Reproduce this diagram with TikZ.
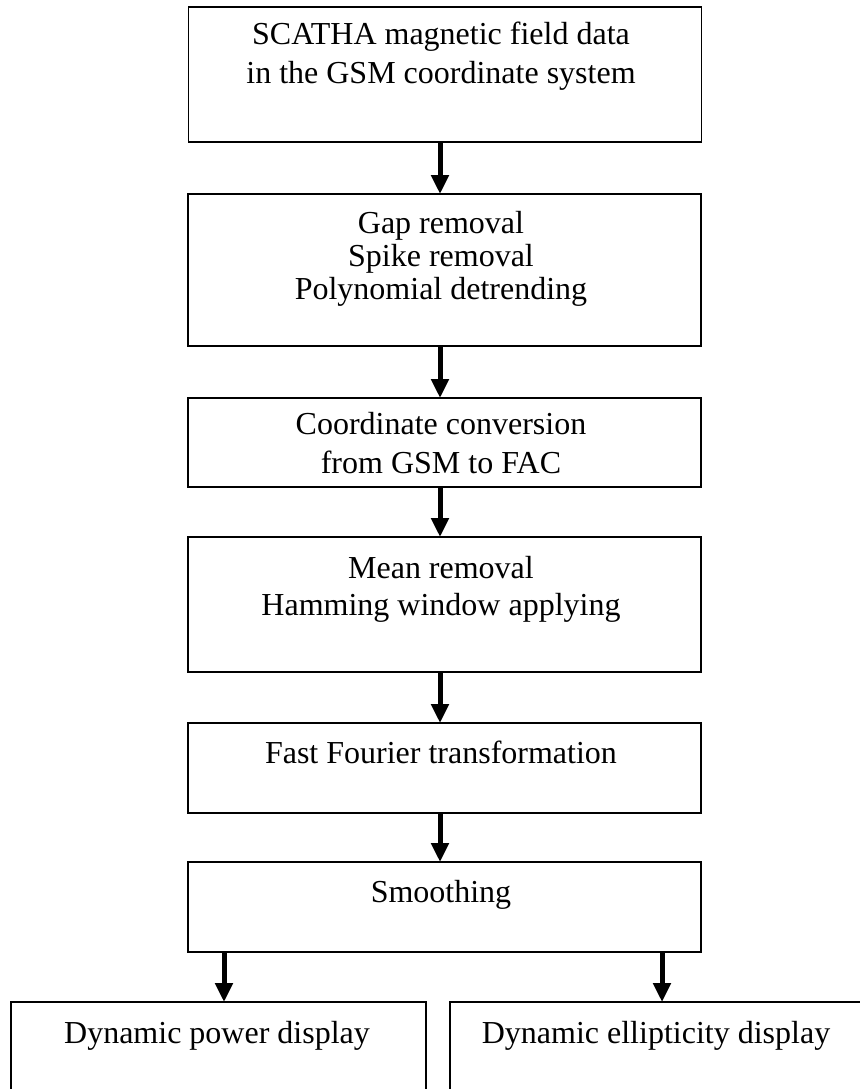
\documentclass[tikz,border=0pt]{standalone}
\usepackage{fontspec}
\setmainfont{Liberation Serif}
\usetikzlibrary{arrows.meta}

\begin{document}
\begin{tikzpicture}[x=0.5pt, y=-0.5pt,
		box/.style={draw=black, line width=0.8pt, inner sep=0pt, outer sep=0pt, minimum width=256.5pt},
		txt/.style={anchor=north, inner sep=0pt, align=center, font=\fontsize{16}{19.5}\selectfont},
		flow/.style={line width=2.5pt, -{Triangle[length=9.5pt, width=8.5pt]}}]
		%%%%% START %%%%%
		\useasboundingbox (0, 0) rectangle (860, 1089);
		\clip (0, 0) rectangle (860, 1089);
		
		\coordinate (ax) at (440, 0);
		\coordinate (al) at (224, 0);
		\coordinate (ar) at (662, 0);
		
		% boxes
		\node[box, minimum height=67.5pt] (b1) at (445, 74.5) {};
		\node[box, minimum height=76pt] (b2) at (444.5, 270) {};
		\node[box, minimum height=44.5pt] (b3) at (444.5, 442.5) {};
		\node[box, minimum height=67.5pt] (b4) at (444.5, 604.5) {};
		\node[box, minimum height=45pt] (b5) at (444.5, 768) {};
		\node[box, minimum height=45pt] (b6) at (444.5, 907) {};
		\node[box, minimum width=207.5pt, minimum height=49pt] (b7) at (218.5, 1051) {};
		\node[box, minimum width=208pt, minimum height=49pt] (b8) at (658, 1051) {};
		
		% texts
		\node[txt] (t1) at (441, 22) {SCATHA magnetic field data\\in the GSM coordinate system};
		\node[txt, font=\fontsize{16}{16.5}\selectfont] (t2) at (441, 211) {Gap removal\\Spike removal\\Polynomial detrending};
		\node[txt] (t3) at (441, 412) {Coordinate conversion\\from GSM to FAC};
		\node[txt, font=\fontsize{16}{18.5}\selectfont] (t4) at (441, 556) {Mean removal\\Hamming window applying};
		\node[txt] (t5) at (441, 741) {Fast Fourier transformation};
		\node[txt] (t6) at (441, 880) {Smoothing};
		\node[txt] (t7) at (217, 1021) {Dynamic power display};
		\node[txt] (t8) at (656, 1021) {Dynamic ellipticity display};
		
		% arrows
		\draw[flow] (b1.south -| ax) -- (b2.north -| ax);
		\draw[flow] (b2.south -| ax) -- (b3.north -| ax);
		\draw[flow] (b3.south -| ax) -- (b4.north -| ax);
		\draw[flow] (b4.south -| ax) -- (b5.north -| ax);
		\draw[flow] (b5.south -| ax) -- (b6.north -| ax);
		\draw[flow] (b6.south -| al) -- (b7.north -| al);
		\draw[flow] (b6.south -| ar) -- (b8.north -| ar);
		%%%%% END %%%%%
\end{tikzpicture}
\end{document}
